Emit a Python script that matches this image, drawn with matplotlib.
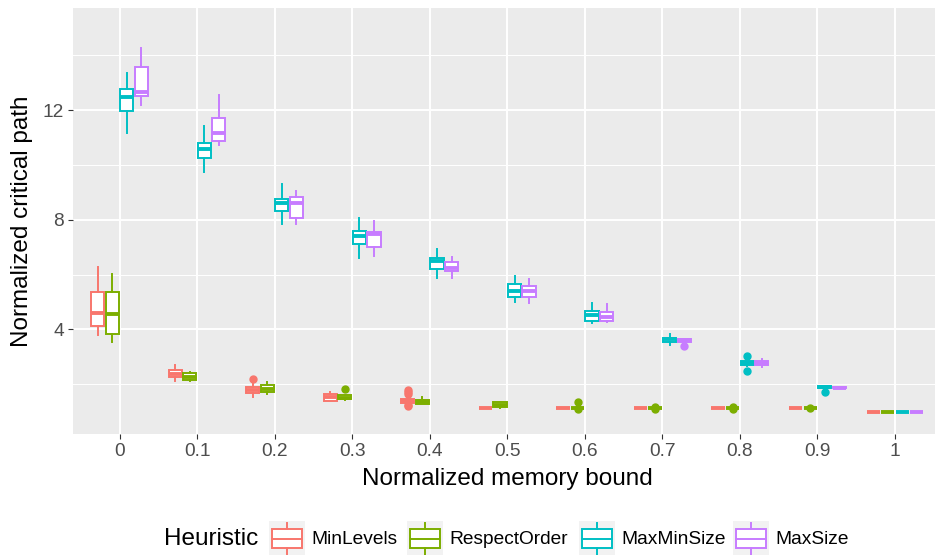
import numpy as np
import matplotlib.pyplot as plt
from matplotlib.patches import Rectangle
from matplotlib.lines import Line2D

plt.rcParams['font.family'] = ['Liberation Sans', 'DejaVu Sans']

# x categories (memory bound) and heuristics
bounds = ['0', '0.1', '0.2', '0.3', '0.4', '0.5', '0.6', '0.7', '0.8', '0.9', '1']
heuristics = ['MinLevels', 'RespectOrder', 'MaxMinSize', 'MaxSize']
colors = ['#F8766D', '#7CAE00', '#00BFC4', '#C77CFF']

# box stats, one list per heuristic (11 values each)
minlevels_lo = [3.80, 2.14, 1.55, 1.40, 1.31, 1.12, 1.12, 1.12, 1.12, 1.12, 1.0]
minlevels_q1 = [4.13, 2.28, 1.68, 1.40, 1.33, 1.12, 1.12, 1.12, 1.12, 1.12, 1.0]
minlevels_med = [4.60, 2.39, 1.80, 1.55, 1.40, 1.13, 1.13, 1.13, 1.13, 1.13, 1.0]
minlevels_q3 = [5.37, 2.52, 1.92, 1.64, 1.48, 1.14, 1.14, 1.14, 1.14, 1.14, 1.0]
minlevels_hi = [6.28, 2.71, 2.04, 1.72, 1.50, 1.14, 1.14, 1.14, 1.14, 1.14, 1.0]
minlevels_out = [[], [], [2.20], [], [1.80, 1.72, 1.64, 1.24, 1.20], [], [], [], [], [], []]

respect_lo = [3.54, 2.12, 1.65, 1.43, 1.27, 1.15, 1.12, 1.12, 1.12, 1.12, 1.0]
respect_q1 = [3.84, 2.16, 1.71, 1.45, 1.29, 1.17, 1.12, 1.12, 1.12, 1.12, 1.0]
respect_med = [4.57, 2.28, 1.84, 1.52, 1.35, 1.26, 1.13, 1.13, 1.13, 1.13, 1.0]
respect_q3 = [5.37, 2.40, 1.98, 1.60, 1.43, 1.36, 1.14, 1.14, 1.14, 1.14, 1.0]
respect_hi = [6.02, 2.46, 2.08, 1.61, 1.53, 1.37, 1.14, 1.14, 1.14, 1.14, 1.0]
respect_out = [[], [], [], [1.82], [], [], [1.37, 1.09], [1.16, 1.10], [1.16, 1.10], [1.14], []]

maxmin_lo = [11.17, 9.75, 7.85, 6.60, 5.87, 5.01, 4.23, 3.42, 2.68, 1.84, 1.0]
maxmin_q1 = [11.96, 10.26, 8.32, 7.12, 6.19, 5.20, 4.31, 3.56, 2.69, 1.85, 1.0]
maxmin_med = [12.48, 10.58, 8.62, 7.41, 6.51, 5.41, 4.53, 3.65, 2.77, 1.90, 1.0]
maxmin_q3 = [12.77, 10.81, 8.75, 7.60, 6.60, 5.65, 4.69, 3.70, 2.84, 1.93, 1.0]
maxmin_hi = [13.36, 11.43, 9.30, 8.05, 6.93, 5.95, 4.98, 3.83, 2.86, 1.94, 1.0]
maxmin_out = [[], [], [], [], [], [], [], [], [3.03, 2.49], [1.72], []]

maxsize_lo = [12.18, 10.71, 7.85, 6.69, 5.87, 4.98, 4.26, 3.53, 2.64, 1.87, 1.0]
maxsize_q1 = [12.53, 10.88, 8.08, 7.02, 6.14, 5.20, 4.31, 3.54, 2.70, 1.87, 1.0]
maxsize_med = [12.67, 11.15, 8.60, 7.48, 6.25, 5.41, 4.47, 3.60, 2.77, 1.88, 1.0]
maxsize_q3 = [13.56, 11.72, 8.84, 7.56, 6.45, 5.60, 4.65, 3.66, 2.84, 1.89, 1.0]
maxsize_hi = [14.28, 12.54, 9.06, 7.95, 6.65, 5.84, 4.93, 3.67, 2.92, 1.89, 1.0]
maxsize_out = [[], [], [], [], [], [], [], [3.40], [], [], []]

series = [
    (minlevels_lo, minlevels_q1, minlevels_med, minlevels_q3, minlevels_hi, minlevels_out),
    (respect_lo, respect_q1, respect_med, respect_q3, respect_hi, respect_out),
    (maxmin_lo, maxmin_q1, maxmin_med, maxmin_q3, maxmin_hi, maxmin_out),
    (maxsize_lo, maxsize_q1, maxsize_med, maxsize_q3, maxsize_hi, maxsize_out),
]

W, H = 935, 555
fig = plt.figure(figsize=(W / 100, H / 100), dpi=100)
ax = fig.add_axes([73 / W, 1 - 434 / H, 868.5 / W, 426 / H])
ax.set_facecolor('#EBEBEB')
for s in ax.spines.values():
    s.set_visible(False)

dodge = 0.75 / 4
xs = np.arange(len(bounds))
for k, (lo, q1, med, q3, hi, out) in enumerate(series):
    c = colors[k]
    stats = [dict(whislo=lo[i], q1=q1[i], med=med[i], q3=q3[i], whishi=hi[i], fliers=out[i])
             for i in range(len(bounds))]
    pos = xs + (k - 1.5) * dodge
    ax.bxp(stats, positions=pos, widths=0.17, patch_artist=True, showcaps=False,
           boxprops=dict(facecolor='white', edgecolor=c, linewidth=1.4),
           medianprops=dict(color=c, linewidth=2.8, solid_capstyle='butt'),
           whiskerprops=dict(color=c, linewidth=1.4),
           flierprops=dict(marker='o', markerfacecolor=c, markeredgecolor=c,
                           markersize=5, linestyle='none'),
           manage_ticks=False, zorder=3)

ax.set_xlim(-0.6, 10.6)
ax.set_ylim(0.19, 15.72)
ax.set_xticks(xs)
ax.set_xticklabels(bounds)
ax.set_yticks([4, 8, 12])
ax.set_yticks([2, 6, 10, 14], minor=True)
ax.grid(which='major', color='white', linewidth=1.4)
ax.grid(which='minor', axis='y', color='white', linewidth=0.7)
ax.set_axisbelow(True)
ax.tick_params(which='major', length=3.7, width=0.8, color='#333333',
               labelcolor='#4D4D4D', labelsize=13.8, pad=3)
ax.tick_params(which='minor', length=0)

ax.set_xlabel('Normalized memory bound', fontsize=17.5, color='black')
ax.set_ylabel('Normalized critical path', fontsize=17.5, color='black')
ax.xaxis.set_label_coords(0.5, -0.1056)
ax.yaxis.set_label_coords((22 - 73) / 868.5, 0.5)
ax.xaxis.label.set_va('center')
ax.yaxis.label.set_va('center')


def fx(p):
    return p / W


def fy(p):
    return 1 - p / H


# legend at the bottom, drawn by hand like ggplot's boxplot keys
fig.text(fx(164), fy(539), 'Heuristic', fontsize=17.5, va='center', ha='left')
key_x = [269, 407, 579, 733]
for k, name in enumerate(heuristics):
    x0 = key_x[k]
    c = colors[k]
    fig.patches.append(Rectangle((fx(x0), fy(557)), 36 / W, 36 / H, transform=fig.transFigure,
                                 facecolor='#F2F2F2', edgecolor='none'))
    fig.patches.append(Rectangle((fx(x0 + 3), fy(548)), 30 / W, 19 / H, transform=fig.transFigure,
                                 facecolor='white', edgecolor=c, linewidth=1.4))
    fig.lines.append(Line2D([fx(x0 + 3), fx(x0 + 33)], [fy(538.5), fy(538.5)],
                            transform=fig.transFigure, color=c, linewidth=1.4))
    fig.lines.append(Line2D([fx(x0 + 18), fx(x0 + 18)], [fy(522.5), fy(529)],
                            transform=fig.transFigure, color=c, linewidth=1.4))
    fig.lines.append(Line2D([fx(x0 + 18), fx(x0 + 18)], [fy(548), fy(556)],
                            transform=fig.transFigure, color=c, linewidth=1.4))
    fig.text(fx(x0 + 42), fy(539), name, fontsize=13.8, va='center', ha='left')

fig.savefig('out.png', dpi=100)
